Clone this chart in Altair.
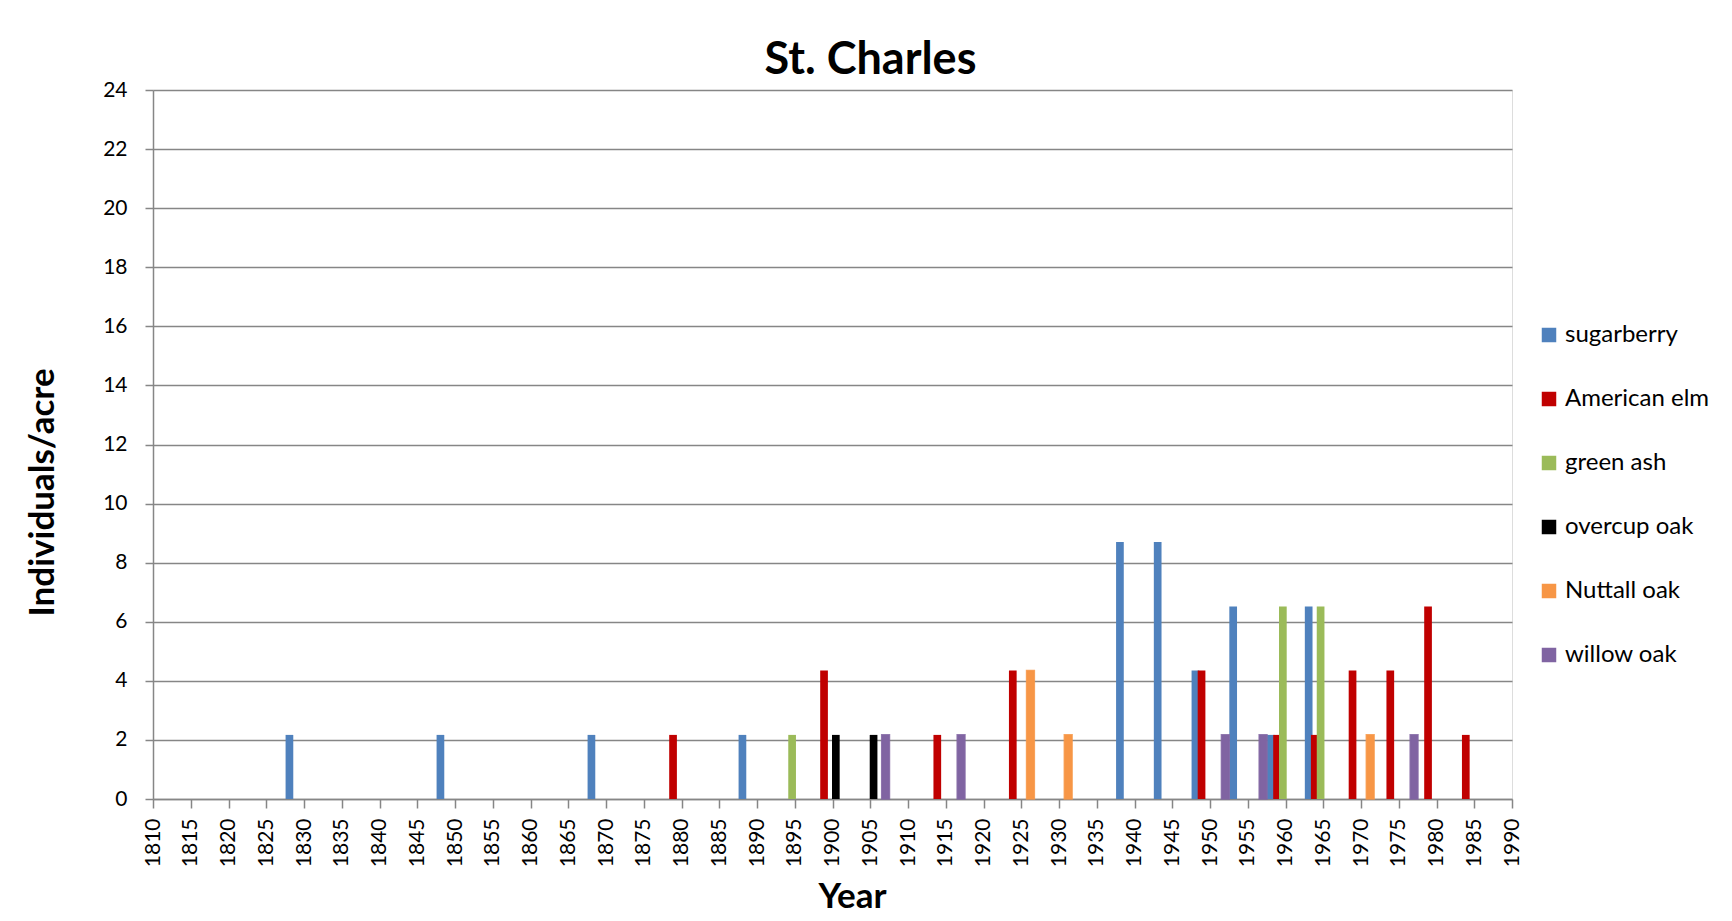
import altair as alt
import pandas as pd

# ---- data ----
series_names = ["sugarberry", "American elm", "green ash", "overcup oak", "Nuttall oak", "willow oak"]
series_colors = ["#4F81BD", "#C00000", "#9BBB59", "#000000", "#F79646", "#8064A2"]
# where each series' bar sits inside its year (in years)
series_offsets = [0.07, -0.12, -0.35, 0.44, 0.22, 0.03]

sugarberry_years = [1828, 1848, 1868, 1888, 1938, 1943, 1948, 1953, 1958, 1963]
sugarberry_values = [2.17, 2.17, 2.17, 2.17, 8.70, 8.70, 4.35, 6.52, 2.17, 6.52]

elm_years = [1879, 1899, 1914, 1924, 1949, 1959, 1964, 1969, 1974, 1979, 1984]
elm_values = [2.17, 4.35, 2.17, 4.35, 4.35, 2.17, 2.17, 4.35, 4.35, 6.52, 2.17]

ash_years = [1895, 1960, 1965]
ash_values = [2.17, 6.52, 6.52]

overcup_years = [1900, 1905]
overcup_values = [2.17, 2.17]

nuttall_years = [1926, 1931, 1971]
nuttall_values = [4.35, 2.17, 2.17]

willow_years = [1907, 1917, 1952, 1957, 1977]
willow_values = [2.17, 2.17, 2.17, 2.17, 2.17]

x_tick_labels = [1810, 1815, 1820, 1825, 1830, 1835, 1840, 1845, 1850, 1855, 1860,
                 1865, 1870, 1875, 1880, 1885, 1890, 1895, 1900, 1905, 1910, 1915,
                 1920, 1925, 1930, 1935, 1940, 1945, 1950, 1955, 1960, 1965, 1970,
                 1975, 1980, 1985, 1990]
y_tick_labels = [0, 2, 4, 6, 8, 10, 12, 14, 16, 18, 20, 22, 24]

# ---- table ----
all_years = [sugarberry_years, elm_years, ash_years, overcup_years, nuttall_years, willow_years]
all_values = [sugarberry_values, elm_values, ash_values, overcup_values, nuttall_values, willow_values]
rows = []
for i, name in enumerate(series_names):
    for yr, v in zip(all_years[i], all_values[i]):
        rows.append({"series": name, "year": yr, "pos": yr + series_offsets[i],
                     "value": v, "order": len(rows)})
df = pd.DataFrame(rows)

FONT = "Lato"
GRID = "#868686"

color_scale = alt.Scale(domain=series_names, range=series_colors)

bars = alt.Chart(df).transform_calculate(
    x0="datum.pos - 0.51", x1="datum.pos + 0.51"
).mark_bar(strokeOpacity=0.85).encode(
    x=alt.X("x0:Q",
            scale=alt.Scale(domain=[1810, 1990], nice=False, zero=False),
            axis=alt.Axis(values=x_tick_labels, format="d", labelAngle=270,
                          labelFont=FONT, labelFontSize=21, labelColor="#000000",
                          labelPadding=10, tickSize=9, tickColor=GRID, tickWidth=1.5,
                          domainColor=GRID, domainWidth=1.5, grid=False,
                          labelOverlap=False, labelFlush=False,
                          title="Year", titleFont=FONT, titleFontSize=35,
                          titleFontWeight="bold", titleColor="#000000",
                          titleX=699, titleY=108, titleBaseline="alphabetic",
                          titleAlign="center")),
    x2="x1:Q",
    y=alt.Y("value:Q", stack=None,
            scale=alt.Scale(domain=[0, 24], nice=False),
            axis=alt.Axis(values=y_tick_labels, labelFont=FONT, labelFontSize=21,
                          labelColor="#000000", labelPadding=18, tickSize=8,
                          tickColor=GRID, tickWidth=1.5, domainColor=GRID,
                          domainWidth=1.5, grid=True, gridColor=GRID, gridWidth=1.5,
                          title="Individuals/acre", titleFont=FONT, titleFontSize=35,
                          titleFontWeight="bold", titleColor="#000000",
                          titleAngle=270, titleX=-100, titleY=402,
                          titleBaseline="alphabetic", titleAlign="center")),
    y2=alt.datum(0),
    color=alt.Color("series:N", scale=color_scale, sort=series_names,
                    legend=alt.Legend(title=None, orient="none", legendX=1384,
                                      legendY=233, direction="vertical",
                                      symbolType="square", symbolSize=210,
                                      symbolStrokeWidth=0, labelFont=FONT,
                                      labelFontSize=24, labelColor="#000000",
                                      labelOffset=4, rowPadding=40, padding=0)),
    stroke=alt.Color("series:N", scale=color_scale, legend=None),
    strokeWidth=alt.condition(
        "datum.series == 'Nuttall oak' || datum.series == 'willow oak'",
        alt.value(1.6), alt.value(0)),
    order=alt.Order("order:Q"),
).properties(
    width=1359,
    height=709,
    title=alt.TitleParams(text="St. Charles", font=FONT, fontSize=45,
                          fontWeight="bold", color="#000000", anchor="middle",
                          frame="group", dx=38, dy=52, offset=12, baseline="alphabetic"),
    autosize=alt.AutoSizeParams(type="none"),
    padding={"left": 145, "top": 82, "right": 210, "bottom": 118},
).configure_view(stroke=None).configure(background="#ffffff")

chart = bars
chart.save("out.html", embed_options={"renderer": "svg", "actions": False})
